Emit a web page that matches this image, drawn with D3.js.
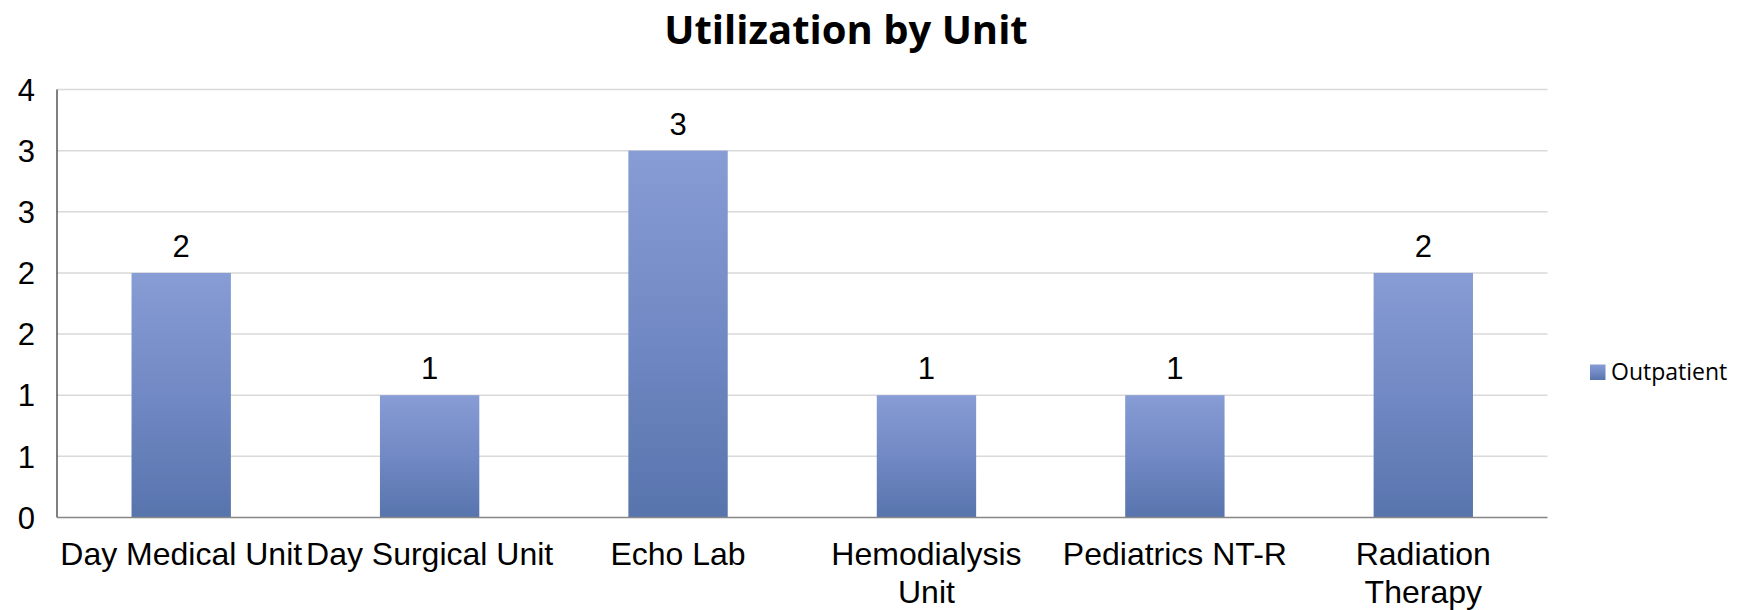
<!DOCTYPE html>
<html>
<head>
<meta charset="utf-8">
<script src="https://cdn.jsdelivr.net/npm/d3@7/dist/d3.min.js"></script>
<style>
  html, body { margin: 0; padding: 0; background: #fff; }
  svg { display: block; }
</style>
</head>
<body>
<svg id="chart" width="1752" height="610"></svg>
<script>
const title = "Utilization by Unit";
const categories = ["Day Medical Unit", "Day Surgical Unit", "Echo Lab", "Hemodialysis Unit", "Pediatrics NT-R", "Radiation Therapy"];
const categoryLines = [["Day Medical Unit"], ["Day Surgical Unit"], ["Echo Lab"], ["Hemodialysis", "Unit"], ["Pediatrics NT-R"], ["Radiation", "Therapy"]];
const seriesName = "Outpatient";
const outpatient = [2, 1, 3, 1, 1, 2];
const yTicks = [0, 0.5, 1, 1.5, 2, 2.5, 3, 3.5];
const yTickLabels = ["0", "1", "1", "2", "2", "3", "3", "4"];

const svg = d3.select("#chart");
const plot = { left: 57, right: 1547.5, top: 89.5, bottom: 517.5 };

const x = d3.scaleBand().domain(categories).range([plot.left, plot.right]).paddingInner(0.6).paddingOuter(0.3);
const y = d3.scaleLinear().domain([0, 3.5]).range([plot.bottom, plot.top]);

const defs = svg.append("defs");
const grad = defs.append("linearGradient").attr("id", "barGrad").attr("x1", 0).attr("y1", 0).attr("x2", 0).attr("y2", 1);
grad.append("stop").attr("offset", "0%").attr("stop-color", "#889cd5");
grad.append("stop").attr("offset", "50%").attr("stop-color", "#7189c4");
grad.append("stop").attr("offset", "100%").attr("stop-color", "#5874ad");

// gridlines
svg.append("g").selectAll("line").data(yTicks.filter(d => d > 0)).join("line")
  .attr("x1", plot.left).attr("x2", plot.right)
  .attr("y1", d => y(d)).attr("y2", d => y(d))
  .attr("stroke", "#d9d9d9").attr("stroke-width", 1.5);

// bars
svg.append("g").selectAll("rect").data(outpatient).join("rect")
  .attr("x", (d, i) => x(categories[i]))
  .attr("width", x.bandwidth())
  .attr("y", d => y(d))
  .attr("height", d => y(0) - y(d))
  .attr("fill", "url(#barGrad)");

// axes lines
svg.append("line").attr("x1", plot.left).attr("x2", plot.left).attr("y1", plot.top).attr("y2", plot.bottom)
  .attr("stroke", "#000").attr("stroke-width", 1);
svg.append("line").attr("x1", plot.left).attr("x2", plot.right).attr("y1", plot.bottom).attr("y2", plot.bottom)
  .attr("stroke", "#868686").attr("stroke-width", 1.5);

// y tick labels
svg.append("g").selectAll("text").data(yTicks).join("text")
  .attr("x", 35).attr("y", d => y(d)).attr("dy", "0.36em")
  .attr("text-anchor", "end")
  .attr("font-family", "'Liberation Sans', Arial, sans-serif").attr("font-size", 31)
  .attr("fill", "#000")
  .text((d, i) => yTickLabels[i]);

// data labels
svg.append("g").selectAll("text").data(outpatient).join("text")
  .attr("x", (d, i) => x(categories[i]) + x.bandwidth() / 2)
  .attr("y", d => y(d) - 16)
  .attr("text-anchor", "middle")
  .attr("font-family", "'Liberation Sans', Arial, sans-serif").attr("font-size", 31)
  .attr("fill", "#000")
  .text(d => d);

// category labels
const cl = svg.append("g").selectAll("text").data(categories).join("text")
  .attr("x", d => x(d) + x.bandwidth() / 2)
  .attr("y", 565)
  .attr("text-anchor", "middle")
  .attr("font-family", "'Liberation Sans', Arial, sans-serif").attr("font-size", 32)
  .attr("fill", "#000");
cl.each(function(d, i) {
  const t = d3.select(this);
  categoryLines[i].forEach((line, j) => {
    t.append("tspan").attr("x", x(d) + x.bandwidth() / 2).attr("dy", j === 0 ? 0 : 38).text(line);
  });
});

// title
svg.append("text")
  .attr("x", 846).attr("y", 43.5)
  .attr("text-anchor", "middle")
  .attr("font-family", "'Open Sans', sans-serif").attr("font-weight", "bold").attr("font-size", 40)
  .attr("fill", "#000")
  .text(title);

// legend
const lg = svg.append("g");
lg.append("rect").attr("x", 1590).attr("y", 364.5).attr("width", 15.5).attr("height", 15.5).attr("fill", "url(#barGrad)");
lg.append("text").attr("x", 1611).attr("y", 372).attr("dy", "0.35em")
  .attr("font-family", "'Open Sans', sans-serif").attr("font-size", 23)
  .attr("fill", "#000")
  .text(seriesName);
</script>
</body>
</html>
